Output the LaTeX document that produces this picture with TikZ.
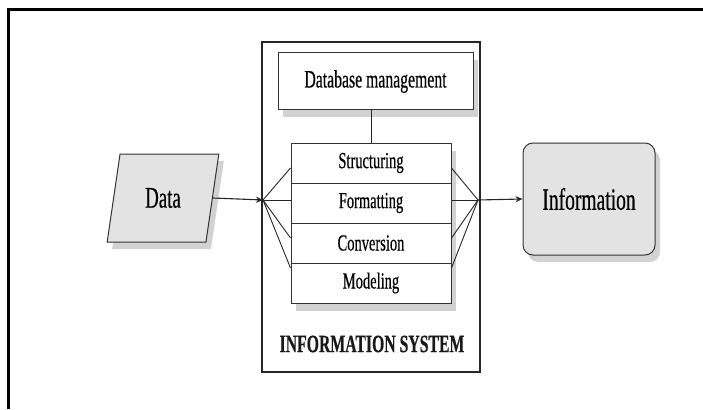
\documentclass[tikz,border=0pt]{standalone}
\usepackage{fontspec}
\setmainfont{Liberation Serif}[FakeStretch=0.63,FakeBold=0.4]
\usetikzlibrary{shapes.geometric,shadows,arrows.meta}
\begin{document}
\begin{tikzpicture}[x=1pt,y=-1pt,
  ink/.style={draw=black!80,line width=1pt},
  shadowed/.style={drop shadow={shadow xshift=5pt,shadow yshift=-7pt,fill=gray!35,opacity=1}},
  rowbox/.style={ink,fill=white,minimum width=160pt,minimum height=40pt,inner sep=0pt,font=\fontsize{23}{23}\selectfont},
  conn/.style={draw=black!85,line width=0.9pt},
  arr/.style={conn,line width=1.1pt,-{Stealth[length=7pt,width=6pt]}}
]
\useasboundingbox (0,0) rectangle (703,409);
\fill[white] (0,0) rectangle (703,409);
% outer frame
\draw[line width=3pt] (8.5,409) -- (8.5,9.5) -- (703,9.5);
% information system box
\node[draw=black!85,line width=1.5pt,minimum width=218pt,minimum height=330pt,inner sep=0pt] (sys) at (371,207) {};
\node[font=\bfseries\fontsize{25}{25}\selectfont,text=black!90] (syslabel) at (372,344) {INFORMATION SYSTEM};
% database management
\node[ink,fill=white,shadowed,minimum width=195pt,minimum height=57pt,inner sep=0pt,font=\fontsize{25}{25}\selectfont] (db) at (375.5,81.5) {Database management};
% stack shadow
\fill[gray!35] (296,151) rectangle (456,311);
\node[rowbox] (r1) at (371,163) {Structuring};
\node[rowbox] (r2) at (371,203) {Formatting};
\node[rowbox] (r3) at (371,243) {Conversion};
\node[rowbox] (r4) at (371,283) {Modeling};
\draw[conn] (r1.north |- db.south) -- (r1.north);
% data
\node[trapezium,trapezium left angle=75,trapezium right angle=105,trapezium stretches=true,
  minimum width=112pt,minimum height=88pt,inner sep=0pt,ink,fill=gray!22,shadowed,
  font=\fontsize{30}{30}\selectfont] (data) at (163,198) {Data};
% information
\node[ink,fill=gray!22,rounded corners=10pt,shadowed,minimum width=132pt,minimum height=112pt,inner sep=0pt,
  font=\fontsize{31}{31}\selectfont] (info) at (589,199) {Information};
% fan points
\coordinate (L) at (263,200);
\coordinate (R) at (478,200);
\draw[arr] (data.east) -- (L);
\draw[arr] (R) -- (info.west);
\draw[conn] (L) -- ([yshift=-5pt]r1.west);
\draw[conn] (L) -- ([yshift=3pt]r2.west);
\draw[conn] (L) -- ([yshift=5pt]r3.west);
\draw[conn] (L) -- ([yshift=15pt]r4.west);
\draw[conn] (R) -- ([yshift=-5pt]r1.east);
\draw[conn] (R) -- ([yshift=3pt]r2.east);
\draw[conn] (R) -- ([yshift=5pt]r3.east);
\draw[conn] (R) -- ([yshift=15pt]r4.east);
\end{tikzpicture}
\end{document}
